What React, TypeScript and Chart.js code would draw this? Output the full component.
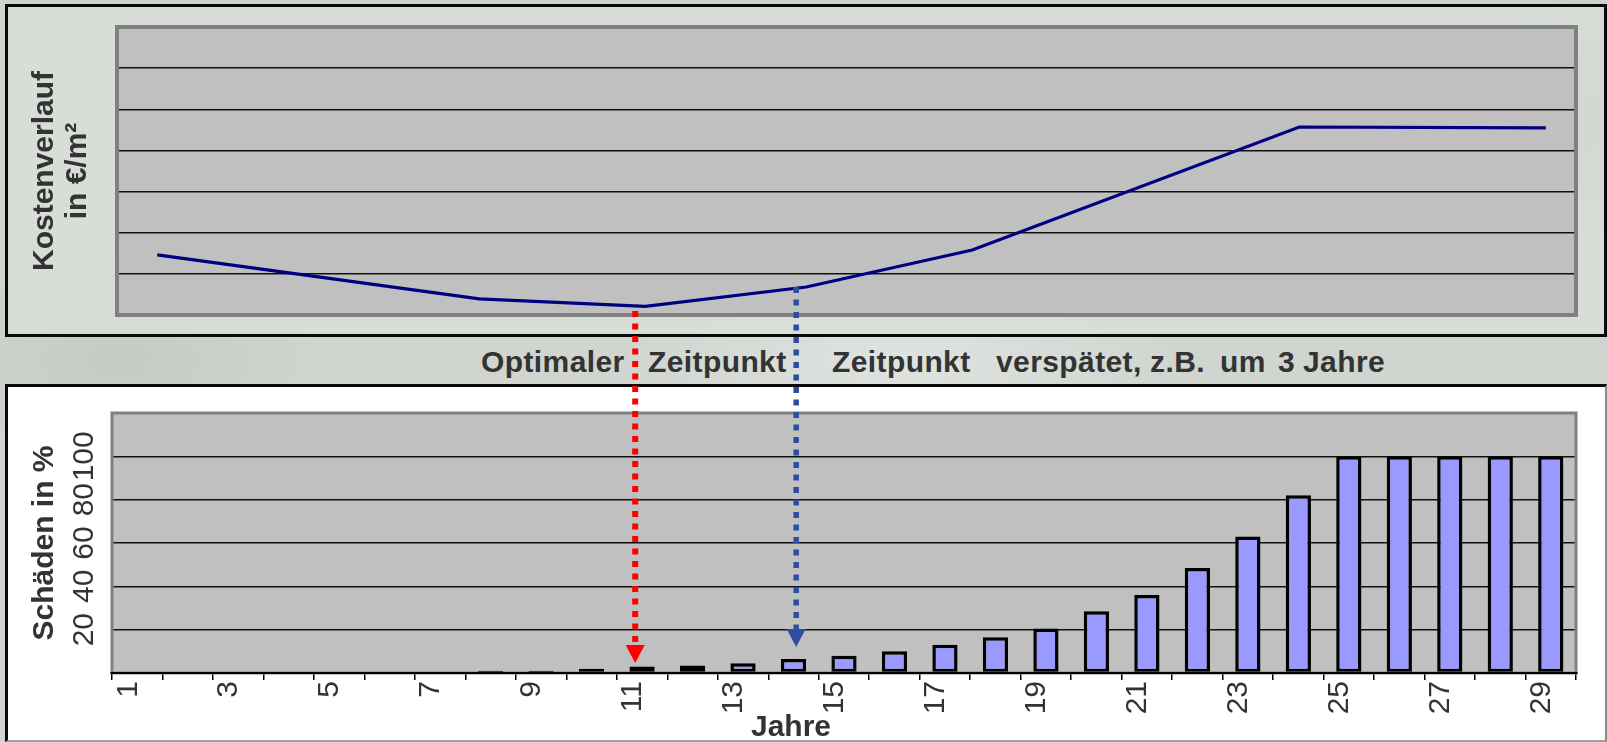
import React, { useEffect, useRef } from 'react';
import { Chart, registerables } from 'chart.js';

Chart.register(...registerables);

const FONT = '"Liberation Sans", Arial, Helvetica, sans-serif';
const TEXT = '#333333';

// ---- bottom chart: damage in % per year ----
const YEARS = ['1', '2', '3', '4', '5', '6', '7', '8', '9', '10', '11', '12', '13', '14', '15',
  '16', '17', '18', '19', '20', '21', '22', '23', '24', '25', '26', '27', '28', '29'];
const DAMAGE = [0, 0, 0, 0, 0, 0, 0, 1, 1, 2, 3, 3.5, 4.5, 6.5, 8, 10, 13, 16.5, 20.5, 28.5,
  36, 48.5, 63, 82, 100, 100, 100, 100, 100];
const DAMAGE_MIN = 0;
const DAMAGE_MAX = 120;
const DAMAGE_STEP = 20;

// ---- top chart: cost curve (x in years, y in cost units) ----
const COST_YEARS = [1.3, 7.7, 11.0, 14.2, 17.5, 24.0, 28.9];
const COST_VALUES = [1.46, 0.39, 0.21, 0.68, 1.58, 4.57, 4.55];
const COST_MIN = 0;
const COST_MAX = 7;

// ---- annotation arrows ----
const ARROW_YEARS = [10.8, 14.0];
const ARROW_FROM_COST = [0.1, 0.68];
const ARROW_TO_DAMAGE = [4.6, 12];
const ARROW_COLORS = ['#ff0000', '#2e4d9e'];

const MIDDLE_WORDS = ['Optimaler', 'Zeitpunkt', 'Zeitpunkt', 'verspätet,', 'z.B.', 'um', '3', 'Jahre'];
const MIDDLE_LEFT = [481, 648, 832, 996, 1150, 1220, 1278, 1303];

const W = 1607;
const H = 742;
const TOP_H = 338;
const BOTTOM_TOP = 385;
const BOTTOM_H = H - BOTTOM_TOP;

function framePlugin(id: string, fill: string, frame: string, frameWidth: number, axisColor?: string, axisWidth?: number) {
  return {
    id,
    beforeDraw(chart: any) {
      const { ctx, chartArea: a } = chart;
      ctx.save();
      ctx.fillStyle = fill;
      ctx.fillRect(a.left, a.top, a.right - a.left, a.bottom - a.top);
      ctx.restore();
    },
    afterDraw(chart: any) {
      const { ctx, chartArea: a } = chart;
      ctx.save();
      ctx.strokeStyle = frame;
      ctx.lineWidth = frameWidth;
      ctx.strokeRect(a.left, a.top, a.right - a.left, a.bottom - a.top);
      if (axisColor) {
        ctx.strokeStyle = axisColor;
        ctx.lineWidth = axisWidth || 2;
        ctx.beginPath();
        ctx.moveTo(a.left - frameWidth / 2, a.bottom);
        ctx.lineTo(a.right + frameWidth / 2, a.bottom);
        ctx.stroke();
      }
      ctx.restore();
    },
  };
}

export default function App() {
  const topRef = useRef<HTMLCanvasElement>(null);
  const bottomRef = useRef<HTMLCanvasElement>(null);
  const overlayRef = useRef<HTMLCanvasElement>(null);

  useEffect(() => {
    const topChart = new Chart(topRef.current!, {
      type: 'line',
      data: {
        datasets: [{
          data: COST_YEARS.map((x, i) => ({ x, y: COST_VALUES[i] })),
          borderColor: '#000080',
          borderWidth: 3.2,
          pointRadius: 0,
          tension: 0,
          fill: false,
        }],
      },
      options: {
        animation: false,
        responsive: false,
        events: [],
        layout: { padding: { left: 0, top: 27, right: 31, bottom: 23 } },
        plugins: { legend: { display: false }, tooltip: { enabled: false } },
        scales: {
          x: { type: 'linear', min: 0.5, max: 29.5, display: false },
          y: {
            min: COST_MIN,
            max: COST_MAX,
            ticks: { stepSize: 1, display: false },
            grid: { color: '#111', lineWidth: 1.4, drawTicks: false },
            border: { display: false },
            title: {
              display: true,
              text: ['Kostenverlauf', 'in €/m²'],
              color: TEXT,
              font: { family: FONT, size: 30, weight: 'bold', lineHeight: 1.1 },
              padding: { top: 28, bottom: 0 },
            },
            afterFit: (s: any) => { s.width = 117; },
          },
        },
      } as any,
      plugins: [framePlugin('topFrame', '#c0c0c0', '#808080', 4)],
    });

    const bottomChart = new Chart(bottomRef.current!, {
      type: 'bar',
      data: {
        labels: YEARS,
        datasets: [{
          data: DAMAGE,
          backgroundColor: '#9999ff',
          borderColor: '#000000',
          borderWidth: 3.5,
          borderSkipped: false,
          categoryPercentage: 1,
          barPercentage: 0.5,
        }],
      },
      options: {
        animation: false,
        responsive: false,
        events: [],
        layout: { padding: { left: 0, top: 28, right: 31, bottom: 0 } },
        plugins: { legend: { display: false }, tooltip: { enabled: false } },
        scales: {
          x: {
            grid: { display: true, drawOnChartArea: false, drawTicks: true, tickLength: 7, color: '#000', lineWidth: 1.5, offset: true },
            border: { display: false },
            ticks: {
              autoSkip: false,
              minRotation: 90,
              maxRotation: 90,
              padding: 1,
              labelOffset: -9,
              color: TEXT,
              font: { family: FONT, size: 30 },
              callback: function (this: any, v: any, i: number) {
                return i % 2 === 0 ? this.getLabelForValue(v) : '';
              },
            },
            afterFit: (s: any) => { s.height = 69; },
          },
          y: {
            min: DAMAGE_MIN,
            max: DAMAGE_MAX,
            ticks: {
              stepSize: DAMAGE_STEP,
              autoSkip: false,
              minRotation: 90,
              maxRotation: 90,
              crossAlign: 'center',
              padding: 2,
              color: TEXT,
              font: { family: FONT, size: 30 },
              callback: (v: any) => (v > DAMAGE_MIN && v < DAMAGE_MAX ? String(v) : ''),
            },
            grid: { color: '#111', lineWidth: 1.4, drawTicks: false },
            border: { display: false },
            title: {
              display: true,
              text: 'Schäden in %',
              color: TEXT,
              font: { family: FONT, size: 30, weight: 'bold', lineHeight: 1.1 },
              padding: { top: 28, bottom: 0 },
            },
            afterFit: (s: any) => { s.width = 112; },
          },
        },
      } as any,
      plugins: [framePlugin('bottomFrame', '#c0c0c0', '#808080', 3, '#000', 2)],
    });

    // annotation arrows across both charts
    const ov = overlayRef.current!;
    const ctx = ov.getContext('2d')!;
    ctx.clearRect(0, 0, W, H);
    const tx = topChart.scales.x;
    const ty = topChart.scales.y;
    const by = bottomChart.scales.y;
    ARROW_YEARS.forEach((yr, i) => {
      const x = tx.getPixelForValue(yr);
      const y0 = ty.getPixelForValue(ARROW_FROM_COST[i]);
      const tip = by.getPixelForValue(ARROW_TO_DAMAGE[i]) + BOTTOM_TOP;
      const headH = 18;
      const headW = 19;
      ctx.save();
      ctx.strokeStyle = ARROW_COLORS[i];
      ctx.fillStyle = ARROW_COLORS[i];
      ctx.lineWidth = i === 0 ? 6 : 5.5;
      ctx.setLineDash([6, 6.5]);
      ctx.beginPath();
      ctx.moveTo(x, y0);
      ctx.lineTo(x, tip - headH);
      ctx.stroke();
      ctx.setLineDash([]);
      ctx.beginPath();
      ctx.moveTo(x - headW / 2, tip - headH);
      ctx.lineTo(x + headW / 2, tip - headH);
      ctx.lineTo(x, tip);
      ctx.closePath();
      ctx.fill();
      ctx.restore();
    });

    return () => {
      topChart.destroy();
      bottomChart.destroy();
    };
  }, []);

  const bg =
    'radial-gradient(ellipse 300px 180px at 120px 360px, rgba(175,182,175,0.35), rgba(175,182,175,0) 70%),' +
    'radial-gradient(ellipse 260px 200px at 1590px 120px, rgba(150,158,150,0.5), rgba(150,158,150,0) 70%),' +
    'radial-gradient(ellipse 400px 120px at 900px 360px, rgba(235,238,235,0.6), rgba(235,238,235,0) 70%),' +
    '#d0d5d0';

  return (
    <div style={{ position: 'relative', width: W, height: H, overflow: 'hidden', background: bg, fontFamily: FONT }}>
      <style>{'html,body{margin:0;padding:0;overflow:hidden;}'}</style>
      <div style={{ position: 'absolute', left: 5, top: 4, width: 1602, height: 333, boxSizing: 'border-box',
        border: '3px solid #0a0a0a', background: 'rgba(218,222,218,0.8)' }} />
      <canvas ref={topRef} width={W} height={TOP_H}
        style={{ position: 'absolute', left: 0, top: 0, width: W, height: TOP_H }} />
      {MIDDLE_WORDS.map((w, i) => (
        <div key={i} style={{ position: 'absolute', left: MIDDLE_LEFT[i], top: 347, fontSize: 30, lineHeight: '30px',
          fontWeight: 'bold', color: TEXT, whiteSpace: 'pre', letterSpacing: '0.4px' }}>{w}</div>
      ))}
      <div style={{ position: 'absolute', left: 5, top: 384, width: 1602, height: 358, boxSizing: 'border-box',
        borderTop: '3px solid #0a0a0a', borderLeft: '3px solid #0a0a0a', borderRight: '2px solid #8a8a8a',
        borderBottom: '2px solid #a0a0a0', background: '#ffffff' }} />
      <canvas ref={bottomRef} width={W} height={BOTTOM_H}
        style={{ position: 'absolute', left: 0, top: BOTTOM_TOP, width: W, height: BOTTOM_H }} />
      <div style={{ position: 'absolute', left: 751, top: 711, fontSize: 30, lineHeight: '30px', fontWeight: 'bold', color: TEXT }}>Jahre</div>
      <canvas ref={overlayRef} width={W} height={H}
        style={{ position: 'absolute', left: 0, top: 0, width: W, height: H, pointerEvents: 'none' }} />
    </div>
  );
}
